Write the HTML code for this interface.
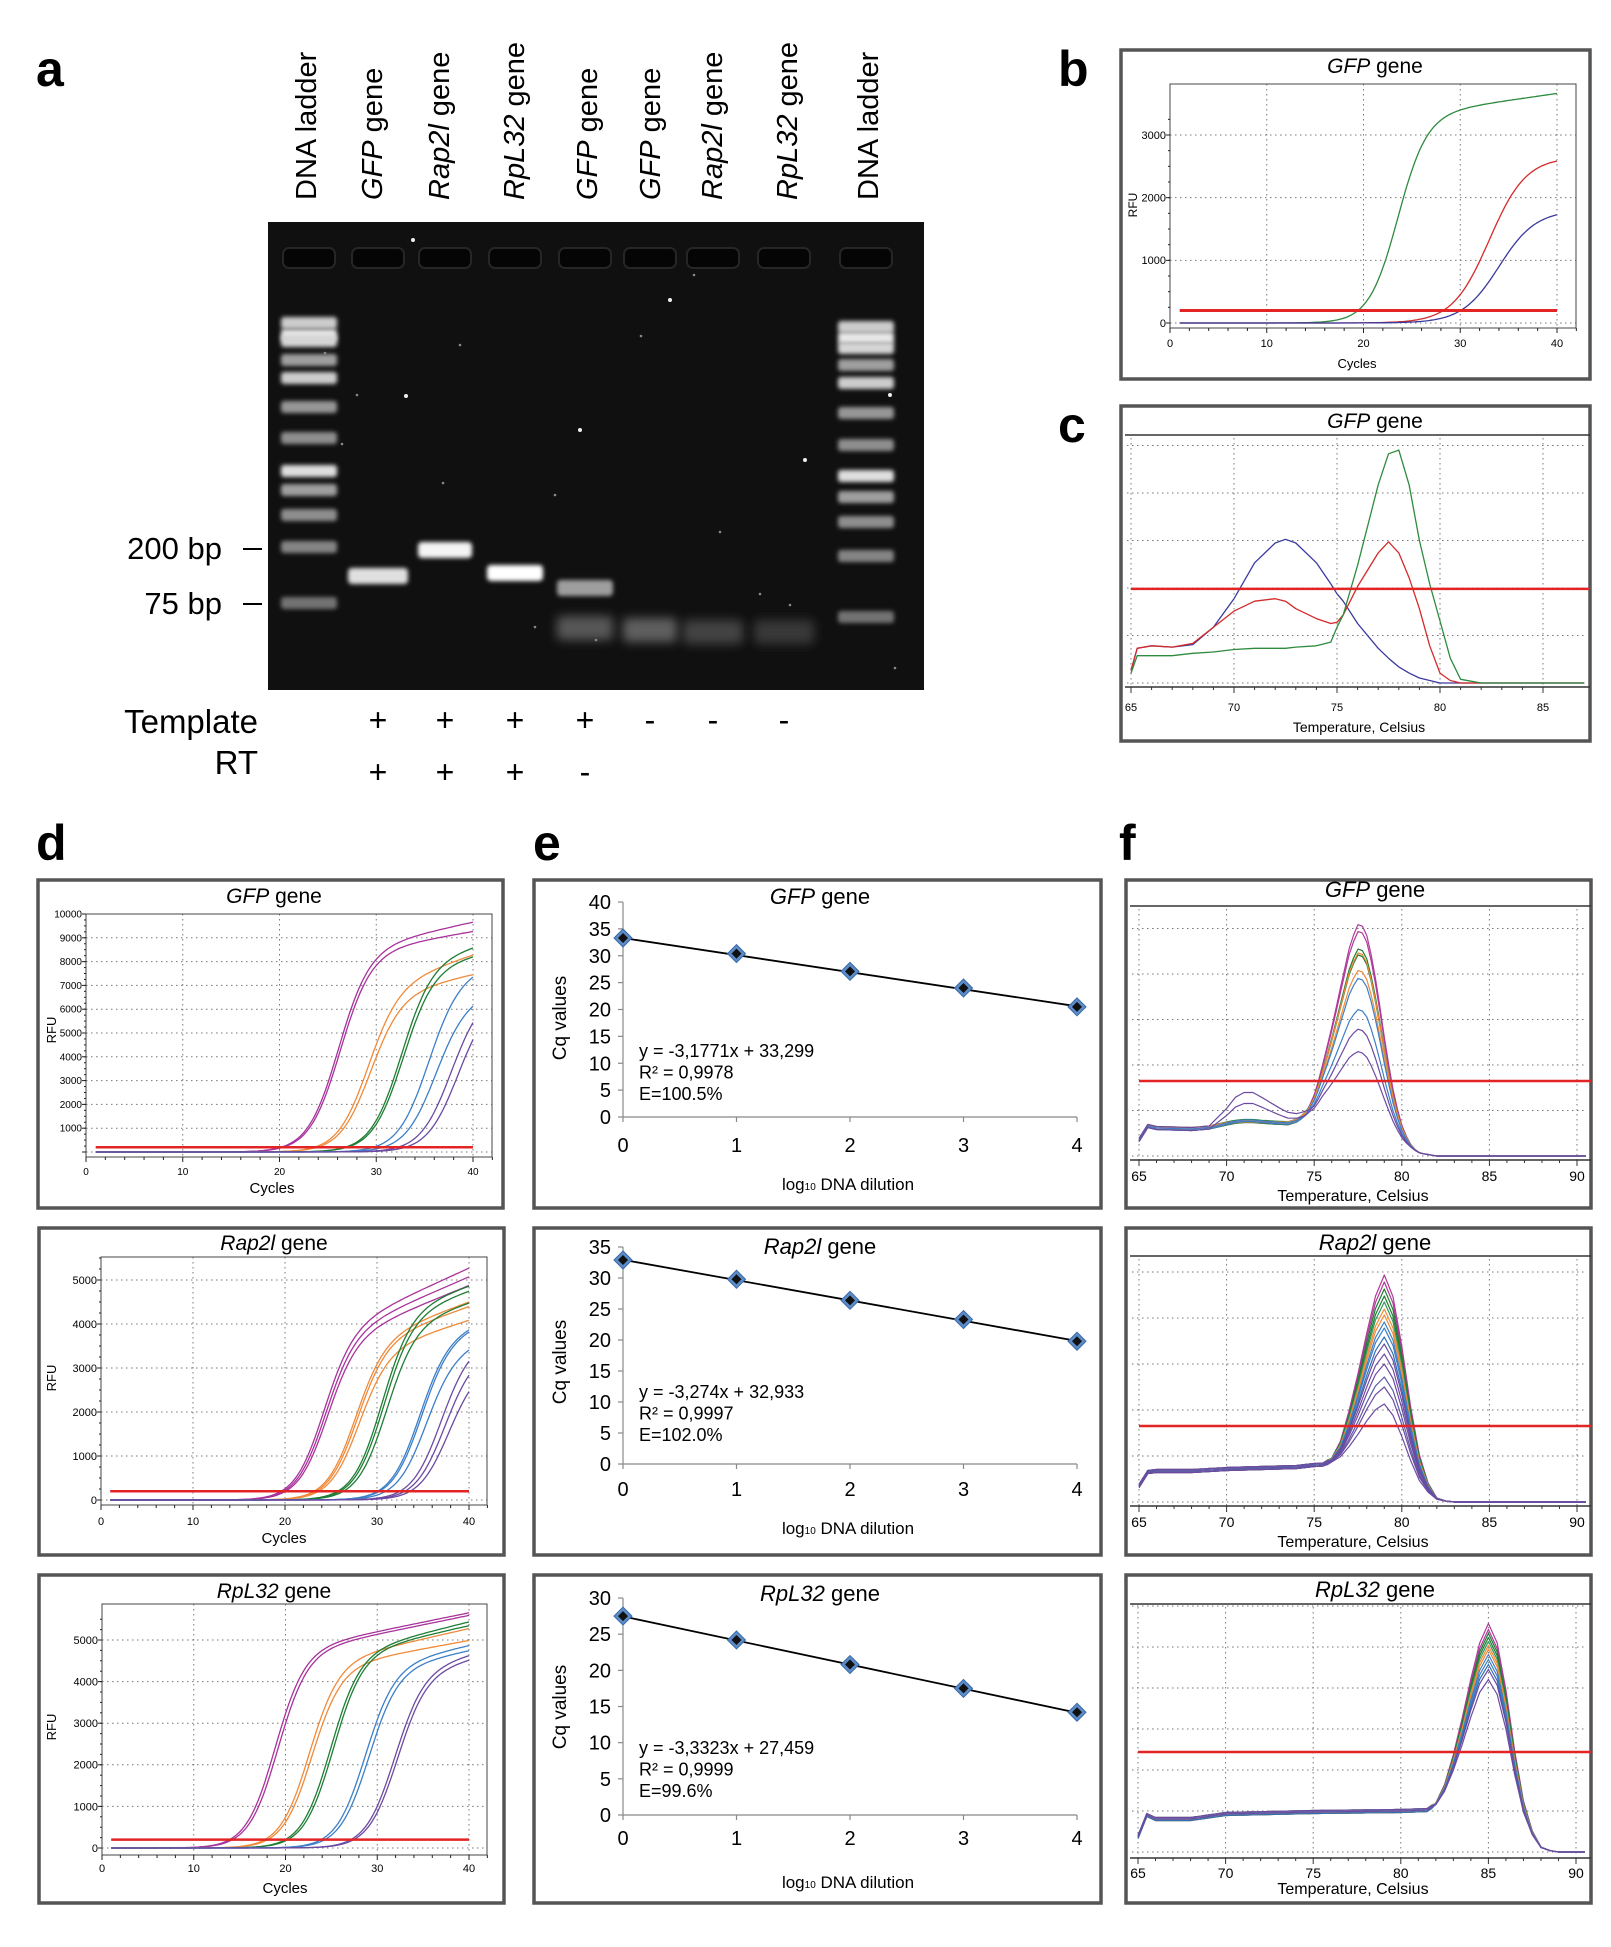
<!DOCTYPE html>
<html><head><meta charset="utf-8"><title>qPCR figure</title>
<style>
html,body{margin:0;padding:0;background:#fff;}
svg{display:block;font-family:"Liberation Sans",Arial,sans-serif;}
</style></head>
<body>
<svg id="fig" xmlns="http://www.w3.org/2000/svg" width="1611" height="1947" viewBox="0 0 1611 1947">
<defs>
<filter id="blur2" x="-20%" y="-50%" width="140%" height="200%"><feGaussianBlur stdDeviation="2.2"/></filter>
<filter id="blur5" x="-20%" y="-80%" width="140%" height="260%"><feGaussianBlur stdDeviation="5"/></filter>
</defs>
<rect x="0" y="0" width="1611" height="1947" fill="#fff"/>
<g font-weight="bold" font-size="50" fill="#000">
<text x="36" y="86">a</text>
<text x="1058" y="86">b</text>
<text x="1058" y="442">c</text>
<text x="36" y="860">d</text>
<text x="533" y="860">e</text>
<text x="1119" y="860">f</text>
</g>
<g id="gelLabels" font-size="29" fill="#000"></g>
<g id="gel"></g>
<g font-size="31" fill="#000">
<text x="222" y="559" text-anchor="end">200 bp</text>
<text x="222" y="614" text-anchor="end">75 bp</text>
<line x1="243" y1="549" x2="262" y2="549" stroke="#000" stroke-width="2"/>
<line x1="243" y1="604" x2="262" y2="604" stroke="#000" stroke-width="2"/>
<text x="258" y="733" text-anchor="end" font-size="33">Template</text>
<text x="258" y="774" text-anchor="end" font-size="33">RT</text>
</g>
<g id="signs" font-size="32" fill="#000" text-anchor="middle"></g>
<g id="charts"></g>
</svg>
<script>
// ===== DATA =====
const laneNames=["DNA ladder","GFP","Rap2l","RpL32","GFP","GFP","Rap2l","RpL32","DNA ladder"];
const templateSigns=["","+","+","+","+","-","-","-",""];
const rtSigns=["","+","+","+","-","","","",""];
const ladderBp=[1000,900,800,700,600,500,400,300,250,200,150,75];
// panel b amplification (GFP)
const bMid=[23.5,33.0,34.0];
const bPlat=[3300,2650,1800];
const bSlope=[1.5,1.9,1.9];
const bDrift=[22,0,0];
const bThreshold=200;
// panel c melt curves (GFP)
const cTemps=[65,65.3,66,67,68,69,70,71,72,72.5,73,74,74.7,75,75.3,76,77,77.5,78,78.5,79,79.5,80,80.5,81,82,87];
const cBlue=[10,28,30,29,31,45,68,97,113,116,113,97,80,72,66,48,28,20,13,8,4,2,0,0,0,0,0];
const cRed=[10,28,30,29,32,45,58,66,68,66,60,52,48,49,55,78,105,114,105,85,60,30,8,2,0,0,0];
const cGreen=[8,22,22,22,24,25,27,28,28,28,29,30,33,45,55,95,160,185,188,160,115,80,50,20,3,0,0];
const cThreshold=76;
// panel d amplification curves
const dGfpMid=[26.0,26.2,29.0,29.3,32.5,32.7,35.3,36.0,37.6,38.3];
const dGfpPlat=[8400,8300,6800,6500,7900,7700,7270,6230,6410,6180];
const dGfpDrift=[90,70,135,90,100,80,100,100,100,100];
const dRapMid=[24.0,24.2,24.4,27.5,27.7,27.9,30.4,30.6,30.9,34.5,34.7,35.2,36.8,37.2,37.6];
const dRapPlat=[3750,3650,3550,3540,3500,3300,4200,4100,3900,3660,3640,3290,3390,3160,2870];
const dRapDrift=[95,90,85,77,73,65,70,70,65,60,60,60,60,60,60];
const dRplMid=[18.8,19.1,22.5,22.8,24.8,25.1,28.6,29.0,31.8,32.1];
const dRplPlat=[4700,4650,4400,4300,4600,4600,4300,4250,4200,4150];
const dRplDrift=[45,45,50,40,55,50,50,45,55,50];
const dThreshold=200;
// panel e standard curves
const eDilution=[0,1,2,3,4];
const eGfpCq=[33.3,30.4,27.1,24.0,20.5];
const eRapCq=[32.9,29.8,26.4,23.3,19.8];
const eRplCq=[27.5,24.2,20.8,17.5,14.2];
const eGfpFit=[-3.1771,33.299];
const eRapFit=[-3.274,32.933];
const eRplFit=[-3.3323,27.459];
const eGfpText=["y = -3,1771x + 33,299","R² = 0,9978","E=100.5%"];
const eRapText=["y = -3,274x + 32,933","R² = 0,9997","E=102.0%"];
const eRplText=["y = -3,3323x + 27,459","R² = 0,9999","E=99.6%"];
// panel f melt curves
const peakOffsets=[-3.5,-3,-2.5,-2,-1.5,-1,-0.5,0,0.5,1,1.5,2,2.5,3,3.5];
const peakShape=[0,0.03,0.12,0.28,0.47,0.68,0.88,1,0.92,0.7,0.42,0.2,0.07,0.01,0];
const humpTemps=[69,70,70.5,71,71.5,72,73,74,75];
const humpShape=[0,0.5,0.85,1,1,0.85,0.5,0.2,0];
const fGfpBaseT=[65,65.5,66,68,70,72,73.5,74.5,75.5,77,78,79,80,81,82,90];
const fGfpBaseV=[16,30,28,27,30,30,31,38,44,42,36,25,12,3,0,0];
const fGfpPeaks=[197,190,172,166,168,150,142,110,90,67];
const fGfpHumps=[5,5,5,5,4,4,6,6,32,24];
const fGfpCenter=77.6;
const fRapBaseT=[65,65.5,66,68,70,72,74,75,76,78,79,80,81,82,83,90];
const fRapBaseV=[16,30,31,31,33,34,35,37,38,35,30,18,8,2,0,0];
const fRapPeaks=[197,190,183,176,170,163,157,150,144,135,128,118,108,95,85,68];
const fRapCenter=79.0;
const fRplBaseT=[65,65.5,66,68,70,75,80,81.5,82.5,84,86,87,88,89,90];
const fRplBaseV=[15,37,33,33,38,40,41,42,44,40,25,12,3,0,0];
const fRplPeaks=[196,190,186,182,178,174,170,165,160,155,150,140];
const fRplCenter=85.0;

// ===== styles (not data) =====
const ampColors5=["#a8329b","#a8329b","#ef8a3a","#ef8a3a","#1e7d34","#1e7d34","#3c7fc7","#3c7fc7","#6c4aa2","#6c4aa2"];
const ampColorsRap=["#a8329b","#a8329b","#a8329b","#ef8a3a","#ef8a3a","#ef8a3a","#1e7d34","#1e7d34","#1e7d34","#3c7fc7","#3c7fc7","#3c7fc7","#6c4aa2","#6c4aa2","#6c4aa2"];
const bColors=["#2e8b3e","#d42a2a","#3a3a9e"];
const fGfpColors=["#b0399a","#b0399a","#1e7d34","#1e7d34","#ef8a3a","#ef8a3a","#3c7fc7","#3c7fc7","#6c4aa2","#6c4aa2"];
const fMix=["#b0399a","#b0399a","#1e7d34","#1e7d34","#2f9a5a","#ef8a3a","#ef8a3a","#3c7fc7","#3c7fc7","#2f6fb5","#6c4aa2","#6c4aa2","#6c4aa2","#5a5aa8","#6c4aa2","#6c4aa2"];

const NS="http://www.w3.org/2000/svg";
function mk(tag,attrs,parent){const e=document.createElementNS(NS,tag);for(const k in attrs)e.setAttribute(k,attrs[k]);(parent||document.getElementById('charts')).appendChild(e);return e;}
function lin(ts,vs,t){if(t<=ts[0])return vs[0];for(let i=1;i<ts.length;i++){if(t<=ts[i]){const f=(t-ts[i-1])/(ts[i]-ts[i-1]);return vs[i-1]+f*(vs[i]-vs[i-1]);}}return vs[vs.length-1];}
function amp(c,m,p,k,d){return (p+d*(c-m))/(1+Math.exp(-(c-m)/k));}

// ===== GEL =====
(function(){
 const gl=document.getElementById('gelLabels');
 const labX=[316,382,449,524,597,660,722,797,878];
 laneNames.forEach((n,i)=>{
  const t=mk('text',{x:labX[i],y:200,transform:'rotate(-90 '+labX[i]+' 200)'},gl);
  
  
  if(n==="DNA ladder"){t.textContent=n;}
  else{const s=mk('tspan',{'font-style':'italic'},t);s.textContent=n;const s2=mk('tspan',{},t);s2.textContent=' gene';}
 });
 const g=document.getElementById('gel');
 const r=mk('rect',{x:268,y:222,width:656,height:468,fill:'#101010'},g);
 
 
 const laneX=[309,378,445,515,585,650,713,784,866];
 laneX.forEach((x,i)=>{
  const w=mk('rect',{x:x-26,y:248,width:52,height:20,rx:6,fill:'#050505',stroke:'#262626','stroke-width':2},g);
  
  
 });
 const ladL=[323,335,341,360,378,407,438,471,490,515,547,603];
 const ladR=[327,338,348,365,383,413,445,476,497,522,556,617];
 const ladI=[0.8,0.95,0.85,0.55,0.8,0.5,0.45,0.9,0.55,0.45,0.4,0.3];
 ladderBp.forEach((bp,i)=>{
  [[309,ladL[i]],[866,ladR[i]]].forEach((p,j)=>{
   const v=Math.round(60+180*ladI[i]);
   const b=mk('rect',{x:p[0]-28,y:p[1]-6,width:56,height:12,rx:3,fill:'rgb('+v+','+v+','+v+')',filter:'url(#blur2)'},g);
   
   
  });
 });
 const samp=[[378,576,60,0.85],[445,550,54,0.95],[515,573,56,1],[585,588,56,0.55],[585,628,56,0.22],[650,630,54,0.25],[713,632,60,0.12],[784,632,60,0.08]];
 samp.forEach((s,i)=>{
  const v=Math.round(40+215*s[3]);
  const b=mk('rect',{x:s[0]-s[2]/2,y:s[1]-(s[3]<0.3?12:8),width:s[2],height:(s[3]<0.3?24:16),rx:4,fill:'rgb('+v+','+v+','+v+')',filter:s[3]<0.3?'url(#blur5)':'url(#blur2)'},g);
  
  
 });
 const dots=[[413,240],[406,396],[580,430],[670,300],[805,460],[890,395],[760,594],[641,336],[596,640],[342,444],[357,395],[325,353],[443,483],[535,627],[895,668],[694,275],[790,605],[720,532],[460,345],[555,495]];
 dots.forEach((d,i)=>{
  const c=mk('circle',{cx:d[0],cy:d[1],r:i<6?2:1.3,fill:i<6?'#eee':'#888'},g);
  
  
 });
 const sg=document.getElementById('signs');
 laneX.forEach((x,i)=>{
  if(templateSigns[i]){const t=mk('text',{x:x,y:731},sg);t.textContent=templateSigns[i];
   
   }
  if(rtSigns[i]){const t=mk('text',{x:x,y:783},sg);t.textContent=rtSigns[i];
   
   }
 });
})();

// ===== helpers =====
function box(x1,y1,x2,y2,name){const r=mk('rect',{x:x1,y:y1,width:x2-x1,height:y2-y1,fill:'#fff',stroke:'#555','stroke-width':3.5});
 
 }
function title(x,y,gene,size,name){const t=mk('text',{x:x,y:y,'text-anchor':'middle','font-size':size});
 
 
 const a=mk('tspan',{'font-style':'italic'},t);a.textContent=gene;const b=mk('tspan',{},t);b.textContent=' gene';}
function txt(x,y,s,size,anchor,name,rot){const a={x:x,y:y,'font-size':size,'text-anchor':anchor||'start'};if(rot)a.transform='rotate(-90 '+x+' '+y+')';const t=mk('text',a);t.textContent=s;
 
 return t;}
function dotted(x1,y1,x2,y2,name){const l=mk('line',{x1:x1,y1:y1,x2:x2,y2:y2,stroke:'#777','stroke-width':1,'stroke-dasharray':'1.5,3.5'});
 
 }
function line(x1,y1,x2,y2,col,w,name){const l=mk('line',{x1:x1,y1:y1,x2:x2,y2:y2,stroke:col,'stroke-width':w});
 
 }
function path(pts,col,w,name){const p=mk('path',{d:'M'+pts.map(q=>q[0].toFixed(1)+','+q[1].toFixed(1)).join('L'),fill:'none',stroke:col,'stroke-width':w,'stroke-linejoin':'round'});
 
 }

// ===== amplification panel =====
function ampPanel(o){
 box(o.bx1,o.by1,o.bx2,o.by2,o.id+'-box');
 title(o.tx,o.ty,o.gene,o.tsize,o.id+'-title');
 const X=c=>o.x0+(o.x40-o.x0)*c/40, Y=v=>o.y0-(o.y0-o.yT)*v/o.vT;
 for(let c=10;c<=40;c+=10)dotted(X(c),o.fy1,X(c),o.fy2,o.id+'-grid-x');
 o.yticks.forEach(v=>{if(v>0)dotted(o.fx1,Y(v),o.fx2,Y(v),o.id+'-grid-y');});
 dotted(o.fx1,Y(0),o.fx2,Y(0),o.id+'-grid-y');
 const f=mk('rect',{x:o.fx1,y:o.fy1,width:o.fx2-o.fx1,height:o.fy2-o.fy1,fill:'none',stroke:'#444','stroke-width':1});
 
 
 for(let c=0;c<=42;c+=2){line(X(c),o.fy2,X(c),o.fy2+(c%10?3:5),'#222',1,o.id+'-x-tick');}
 for(let c=0;c<=40;c+=10)txt(X(c),o.xly,String(c),o.ts,'middle',o.id+'-x-tick-label');
 o.yticks.forEach(v=>{line(o.fx1-4,Y(v),o.fx1,Y(v),'#222',1,o.id+'-y-tick');if(o.showZero||v>0)txt(o.fx1-4,Y(v)+o.ts*0.35,String(v),o.ts,'end',o.id+'-y-tick-label');});
 for(let v=0;v<=o.vT*1.1;v+=o.minor){if(Y(v)>o.fy1)line(o.fx1-2,Y(v),o.fx1,Y(v),'#222',1,o.id+'-y-minor-tick');}
 txt(o.cx,o.cy,'Cycles',o.cs,'middle',o.id+'-x-title');
 txt(o.rx,o.ry,'RFU',o.rs,'middle',o.id+'-y-title',true);
 o.mids.forEach((m,i)=>{const pts=[];for(let c=1;c<=40.001;c+=0.25)pts.push([X(c),Y(amp(c,m,o.plats[i],o.slopes?o.slopes[i]:1.6,o.drifts?o.drifts[i]:0))]);path(pts,o.colors[i],1.3,o.id+'-curve-'+(i+1));});
 line(X(1),Y(o.thr),X(40),Y(o.thr),'#e32424',o.thw,o.id+'-threshold');
}
ampPanel({id:'b-gfp-amp',gene:'GFP',bx1:1121,by1:50,bx2:1590,by2:379,tx:1375,ty:73,tsize:21,
 fx1:1170,fy1:84,fx2:1576,fy2:328,x0:1170,x40:1557,y0:323,yT:135,vT:3000,yticks:[0,1000,2000,3000],minor:250,showZero:true,
 xly:347,ts:11,cx:1357,cy:368,cs:13,rx:1137,ry:205,rs:12,mids:bMid,plats:bPlat,slopes:bSlope,drifts:bDrift,colors:bColors,thr:bThreshold,thw:3});
ampPanel({id:'d-gfp-amp',gene:'GFP',bx1:38,by1:880,bx2:503,by2:1208,tx:274,ty:903,tsize:21,
 fx1:86,fy1:914,fx2:492,fy2:1157,x0:86,x40:473,y0:1152,yT:914,vT:10000,yticks:[0,1000,2000,3000,4000,5000,6000,7000,8000,9000,10000],minor:250,showZero:false,
 xly:1175,ts:10,cx:272,cy:1193,cs:15,rx:56,ry:1030,rs:13,mids:dGfpMid,plats:dGfpPlat,drifts:dGfpDrift,colors:ampColors5,thr:dThreshold,thw:2.5});
ampPanel({id:'d-rap2l-amp',gene:'Rap2l',bx1:39,by1:1228,bx2:504,by2:1555,tx:274,ty:1250,tsize:21,
 fx1:101,fy1:1257,fx2:487,fy2:1505,x0:101,x40:469,y0:1500,yT:1280,vT:5000,yticks:[0,1000,2000,3000,4000,5000],minor:250,showZero:true,
 xly:1525,ts:11,cx:284,cy:1543,cs:15,rx:56,ry:1378,rs:13,mids:dRapMid,plats:dRapPlat,drifts:dRapDrift,colors:ampColorsRap,thr:dThreshold,thw:2.5});
ampPanel({id:'d-rpl32-amp',gene:'RpL32',bx1:39,by1:1575,bx2:504,by2:1903,tx:274,ty:1598,tsize:21,
 fx1:102,fy1:1604,fx2:487,fy2:1855,x0:102,x40:469,y0:1848,yT:1640,vT:5000,yticks:[0,1000,2000,3000,4000,5000],minor:250,showZero:true,
 xly:1872,ts:11,cx:285,cy:1893,cs:15,rx:56,ry:1727,rs:13,mids:dRplMid,plats:dRplPlat,drifts:dRplDrift,colors:ampColors5,thr:dThreshold,thw:2.5});

// ===== standard curve panels =====
function stdPanel(o){
 box(534,o.by1,1101,o.by2,o.id+'-box');
 title(820,o.ty,o.gene,22,o.id+'-title');
 const X=v=>623+(1077-623)*v/4, Y=v=>o.y0-(o.y0-o.yT)*v/o.vT;
 line(X(0),Y(0),X(0),Y(o.vT),'#888',1.2,o.id+'-y-axis');
 line(X(0),Y(0),X(4),Y(0),'#888',1.2,o.id+'-x-axis');
 for(let v=0;v<=o.vT;v+=5){line(X(0)-5,Y(v),X(0),Y(v),'#888',1.2,o.id+'-y-tick');txt(X(0)-12,Y(v)+7,String(v),20,'end',o.id+'-y-tick-label');}
 eDilution.forEach(d=>{line(X(d),Y(0),X(d),Y(0)+5,'#888',1.2,o.id+'-x-tick');txt(X(d),o.xly,String(d),20,'middle',o.id+'-x-tick-label');});
 const fit=o.fit;
 line(X(0),Y(fit[1]),X(4),Y(fit[0]*4+fit[1]),'#000',1.8,o.id+'-trendline');
 o.cq.forEach((v,i)=>{const x=X(eDilution[i]),y=Y(v);
  const p=mk('polygon',{points:(x)+','+(y-9)+' '+(x+9)+','+y+' '+x+','+(y+9)+' '+(x-9)+','+y,fill:'#5b8cc8',stroke:'#3a6aa8','stroke-width':1});
  
  
  const q=mk('polygon',{points:(x)+','+(y-5)+' '+(x+5)+','+y+' '+x+','+(y+5)+' '+(x-5)+','+y,fill:'#111'});
  
  });
 o.eq.forEach((s,i)=>txt(639,o.eqy+i*21.5,s,18,'start',o.id+'-equation-line-'+(i+1)));
 const t=txt(848,o.ly,'',17,'middle',o.id+'-x-title');
 const a=mk('tspan',{},t);a.textContent='log';const b=mk('tspan',{'font-size':10},t);b.textContent='10';const c=mk('tspan',{},t);c.textContent=' DNA dilution';
 txt(566,o.cqy,'Cq values',19,'middle',o.id+'-y-title',true);
}
stdPanel({id:'e-gfp-std',gene:'GFP',by1:880,by2:1208,ty:904,y0:1117,yT:902,vT:40,xly:1152,ly:1190,eqy:1057,cqy:1018,cq:eGfpCq,fit:eGfpFit,eq:eGfpText});
stdPanel({id:'e-rap2l-std',gene:'Rap2l',by1:1228,by2:1555,ty:1254,y0:1464,yT:1247,vT:35,xly:1496,ly:1534,eqy:1398,cqy:1362,cq:eRapCq,fit:eRapFit,eq:eRapText});
stdPanel({id:'e-rpl32-std',gene:'RpL32',by1:1575,by2:1903,ty:1601,y0:1815,yT:1598,vT:30,xly:1845,ly:1888,eqy:1754,cqy:1707,cq:eRplCq,fit:eRplFit,eq:eRplText});

// ===== melt panels =====
function meltFrame(o){
 box(o.bx1,o.by1,o.bx2,o.by2,o.id+'-box');
 title(o.tx,o.ty,o.gene,o.tsize,o.id+'-title');
 line(o.bx1+4,o.tl,o.bx2,o.tl,'#333',1.5,o.id+'-title-rule');
 const X=t=>o.x65+(o.x90-o.x65)*(t-65)/(o.tMax-65);
 for(let t=65;t<=o.tMax;t+=5)dotted(X(t),o.tl+3,X(t),o.ax,o.id+'-grid-x');
 for(let i=0;i<o.gridN;i++)dotted(o.bx1+6,o.base-i*o.gsp,o.bx2-4,o.base-i*o.gsp,o.id+'-grid-y');
 line(o.bx1+4,o.ax,o.bx2,o.ax,'#333',1.5,o.id+'-x-axis');
 for(let t=65;t<=o.tMax+0.5;t+=1)line(X(t),o.ax,X(t),o.ax+(t%5?3:6),'#333',1,o.id+'-x-tick');
 for(let t=65;t<=o.tMax;t+=5)txt(X(t),o.xly,String(t),o.ts,'middle',o.id+'-x-tick-label');
 txt(o.lx,o.ly,'Temperature, Celsius',o.ls,'middle',o.id+'-x-title');
 return X;
}
function meltPanel(o){
 const X=meltFrame(o);
 o.peaks.forEach((pk,i)=>{const pts=[];
  for(let t=65;t<=90.5;t+=0.25){
   let v=lin(o.baseT,o.baseV,t)+pk*lin(peakOffsets,peakShape,t-o.center);
   if(o.humps)v+=o.humps[i]*lin(humpTemps,humpShape,t);
   v+= (i%3-1)*1.5*(t<o.center-3?1:0);
   pts.push([X(t),o.base-v]);}
  path(pts,o.colors[i],1.2,o.id+'-curve-'+(i+1));});
 line(o.x65,o.red,o.bx2,o.red,'#e32424',2.5,o.id+'-threshold');
}
meltPanel({id:'f-gfp-melt',gene:'GFP',bx1:1126,by1:880,bx2:1591,by2:1208,tx:1375,ty:897,tsize:22,tl:906,x65:1139,x90:1577,tMax:90,
 base:1156,gsp:45.5,gridN:6,ax:1160,xly:1181,ts:14,lx:1353,ly:1201,ls:16,red:1081,baseT:fGfpBaseT,baseV:fGfpBaseV,peaks:fGfpPeaks,humps:fGfpHumps,center:fGfpCenter,colors:fGfpColors});
meltPanel({id:'f-rap2l-melt',gene:'Rap2l',bx1:1126,by1:1228,bx2:1591,by2:1555,tx:1375,ty:1250,tsize:22,tl:1256,x65:1139,x90:1577,tMax:90,
 base:1502,gsp:46,gridN:6,ax:1506,xly:1527,ts:14,lx:1353,ly:1547,ls:16,red:1426,baseT:fRapBaseT,baseV:fRapBaseV,peaks:fRapPeaks,center:fRapCenter,colors:fMix});
meltPanel({id:'f-rpl32-melt',gene:'RpL32',bx1:1126,by1:1575,bx2:1591,by2:1903,tx:1375,ty:1597,tsize:22,tl:1604,x65:1138,x90:1576,tMax:90,
 base:1852,gsp:41,gridN:7,ax:1858,xly:1878,ts:14,lx:1353,ly:1894,ls:16,red:1752,baseT:fRplBaseT,baseV:fRplBaseV,peaks:fRplPeaks,center:fRplCenter,colors:fMix});

// ===== panel c =====
(function(){
 const o={id:'c-gfp-melt',gene:'GFP',bx1:1121,by1:406,bx2:1590,by2:741,tx:1375,ty:428,tsize:21,tl:435,x65:1131,x90:1543,tMax:85,
  base:683,gsp:47.5,gridN:6,ax:687,xly:711,ts:11,lx:1359,ly:732,ls:14};
 const X=meltFrame(o);
 const k=1.239;
 [[cBlue,'#3a3a9e'],[cRed,'#d42a2a'],[cGreen,'#2e8b3e']].forEach((s,j)=>{
  const pts=cTemps.map((t,i)=>[X(t),o.base-s[0][i]*k]);
  path(pts,s[1],1.3,'c-curve-'+['blue','red','green'][j]);});
 line(o.x65,o.base-cThreshold*k,o.bx2,o.base-cThreshold*k,'#e32424',2.5,'c-threshold');
})();
</script>
</body></html>
